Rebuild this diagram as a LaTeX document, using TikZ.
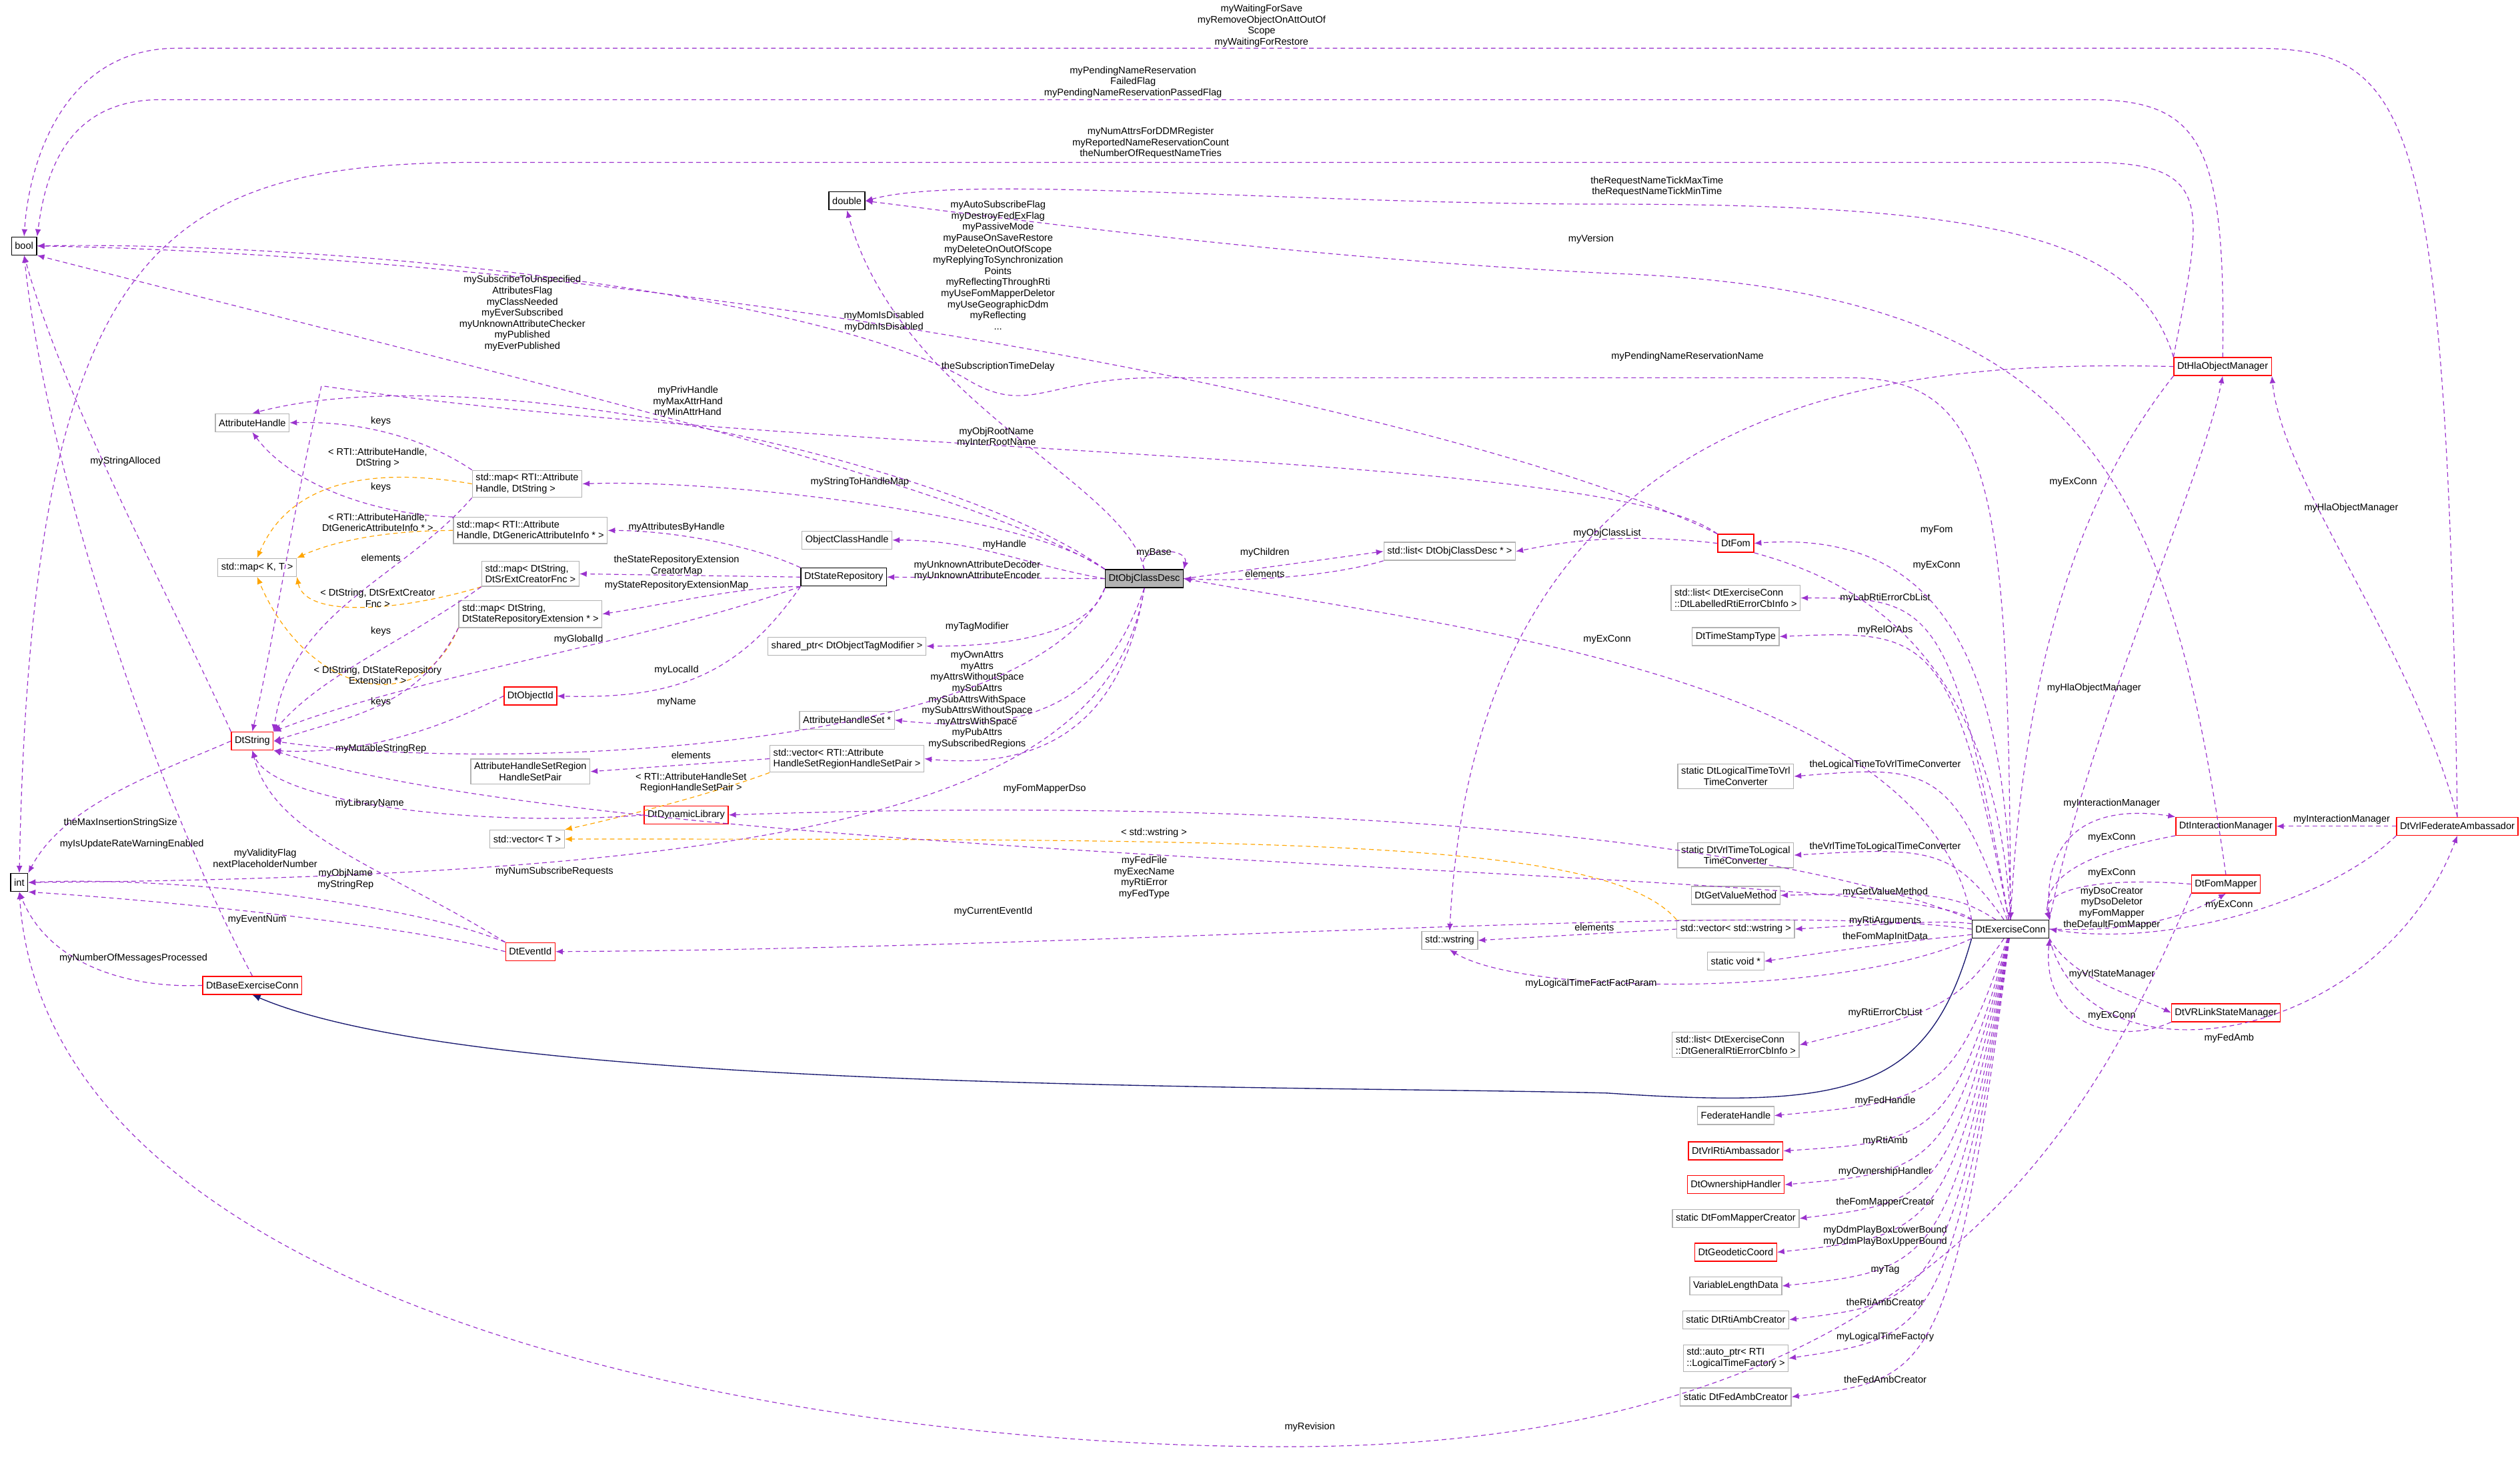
\documentclass[tikz,border=0pt]{standalone}
\usepackage{fontspec}
\setmainfont{Liberation Sans}
\usetikzlibrary{arrows.meta, positioning}
\definecolor{DepPurple}{RGB}{154, 50, 205}
\definecolor{TplOrange}{RGB}{255, 165, 0}
\definecolor{InhBlue}{RGB}{25, 25, 112}
\newcommand{\nf}{\fontsize{4.3}{4.9}\selectfont}

\begin{document}
\begin{tikzpicture}[x=0.025cm, y=-0.025cm,
    cls/.style={draw=black!30, fill=white, font=\nf, inner sep=1.5pt, minimum height=0.28cm, align=left},
    redcls/.style={cls, draw=red},
    blkcls/.style={cls, draw=black},
    lbl/.style={font=\nf, align=center, inner sep=0.3pt},
    dep/.style={draw=DepPurple, dashed, dash pattern=on 2pt off 1.5pt, line width=0.35pt, -{Latex[length=3.2pt, width=2.6pt]}},
    tpl/.style={dep, draw=TplOrange},
    inh/.style={draw=InhBlue, line width=0.4pt, -{Latex[length=3.6pt, width=3pt]}}]
    \useasboundingbox (0,0) rectangle (1568,913);

    % Linke Spalte
    \node[blkcls] (bool) at (15,153) {bool};
    \node[blkcls] (int) at (12,549) {int};
    \node[cls] (attrHandle) at (157,263) {AttributeHandle};
    \node[cls] (mapKT) at (160,353) {std::map< K, T >};
    \node[redcls] (dtString) at (157,461) {DtString};
    \node[redcls] (baseConn) at (157,613) {DtBaseExerciseConn};

    % Karten und Vektoren
    \node[cls] (mapHandleStr) at (328,301) {std::map< RTI::Attribute\\Handle, DtString >};
    \node[cls] (mapHandleInfo) at (330,330) {std::map< RTI::Attribute\\Handle, DtGenericAttributeInfo * >};
    \node[cls] (mapSrExt) at (330,357) {std::map< DtString,\\DtSrExtCreatorFnc >};
    \node[cls] (mapRepoExt) at (330,382) {std::map< DtString,\\DtStateRepositoryExtension * >};
    \node[redcls] (objectId) at (330,433) {DtObjectId};
    \node[cls, align=center] (regionPair) at (330,480) {AttributeHandleSetRegion\\HandleSetPair};
    \node[redcls] (dynLib) at (427,507) {DtDynamicLibrary};
    \node[cls] (vecT) at (328,522) {std::vector< T >};
    \node[redcls] (eventId) at (330,592) {DtEventId};

    % Mitte
    \node[blkcls] (double) at (527,125) {double};
    \node[cls] (objClassHandle) at (527,336) {ObjectClassHandle};
    \node[blkcls] (stateRepo) at (525,359) {DtStateRepository};
    \node[cls] (tagModifier) at (527,402) {shared\_ptr< DtObjectTagModifier >};
    \node[cls] (attrHandleSet) at (527,448) {AttributeHandleSet *};
    \node[cls] (vecRegion) at (527,472) {std::vector< RTI::Attribute\\HandleSetRegionHandleSetPair >};
    \node[blkcls, fill=black!30] (objClassDesc) at (712,360) {DtObjClassDesc};
    \node[cls] (listDesc) at (902,343) {std::list< DtObjClassDesc * >};
    \node[cls] (wstring) at (902,585) {std::wstring};

    % Rechte Spalte
    \node[redcls] (fom) at (1080,338) {DtFom};
    \node[cls] (labList) at (1080,372) {std::list< DtExerciseConn\\::DtLabelledRtiErrorCbInfo >};
    \node[cls] (timeStamp) at (1080,396) {DtTimeStampType};
    \node[cls, align=center] (toVrl) at (1080,483) {static DtLogicalTimeToVrl\\TimeConverter};
    \node[cls, align=center] (toLogical) at (1080,532) {static DtVrlTimeToLogical\\TimeConverter};
    \node[cls] (getValue) at (1080,557) {DtGetValueMethod};
    \node[cls] (vecWstring) at (1080,578) {std::vector< std::wstring >};
    \node[cls] (voidPtr) at (1080,598) {static void *};
    \node[cls] (genList) at (1080,650) {std::list< DtExerciseConn\\::DtGeneralRtiErrorCbInfo >};
    \node[cls] (fedHandle) at (1080,694) {FederateHandle};
    \node[redcls] (rtiAmb) at (1080,716) {DtVrlRtiAmbassador};
    \node[redcls] (ownership) at (1080,737) {DtOwnershipHandler};
    \node[cls] (fomCreator) at (1080,758) {static DtFomMapperCreator};
    \node[redcls] (geodetic) at (1080,779) {DtGeodeticCoord};
    \node[cls] (varData) at (1080,800) {VariableLengthData};
    \node[cls] (rtiCreator) at (1080,821) {static DtRtiAmbCreator};
    \node[cls] (timeFactory) at (1080,845) {std::auto\_ptr< RTI\\::LogicalTimeFactory >};
    \node[cls] (fedCreator) at (1080,869) {static DtFedAmbCreator};

    \node[blkcls] (exConn) at (1251,578) {DtExerciseConn};
    \node[redcls] (hlaMgr) at (1383,228) {DtHlaObjectManager};
    \node[redcls] (interMgr) at (1385,514) {DtInteractionManager};
    \node[redcls] (fomMapper) at (1385,550) {DtFomMapper};
    \node[redcls] (linkMgr) at (1385,630) {DtVRLinkStateManager};
    \node[redcls] (fedAmb) at (1529,514) {DtVrlFederateAmbassador};

    % Lange Verbindungen oben
    \draw[dep] (fedAmb.north) .. controls (1522,60) and (1500,30) .. (1400,30) -- (110,30) .. controls (40,30) and (18,100) .. (bool.north);
    \node[lbl] (lWait) at (785,16) {myWaitingForSave\\myRemoveObjectOnAttOutOf\\Scope\\myWaitingForRestore};
    \draw[dep] (hlaMgr.north) .. controls (1385,90) and (1370,62) .. (1300,62) -- (100,62) .. controls (40,62) and (28,110) .. (bool.north east);
    \node[lbl] (lPend) at (705,51) {myPendingNameReservation\\FailedFlag\\myPendingNameReservationPassedFlag};
    \draw[dep] (hlaMgr.north west) .. controls (1370,130) and (1380,101) .. (1300,101) -- (300,101) .. controls (100,101) and (20,150) .. (int.north);
    \node[lbl] (lNum) at (716,89) {myNumAttrsForDDMRegister\\myReportedNameReservationCount\\theNumberOfRequestNameTries};
    \draw[dep] (hlaMgr.north west) .. controls (1330,150) and (1250,127) .. (1000,127) .. controls (800,127) and (600,108) .. (double.east);
    \node[lbl] (lTick) at (1031,116) {theRequestNameTickMaxTime\\theRequestNameTickMinTime};
    \draw[dep] (fomMapper.north) .. controls (1350,300) and (1300,180) .. (1000,170) .. controls (800,160) and (620,135) .. (double.east);
    \node[lbl] (lVersion) at (990,149) {myVersion};
    \draw[dep] (exConn.north) .. controls (1250,300) and (1240,235) .. (1150,235) -- (720,235) .. controls (650,235) and (640,260) .. (600,235) .. controls (500,180) and (200,150) .. (bool.east);
    \node[lbl] (lFlags) at (621,165) {myAutoSubscribeFlag\\myDestroyFedExFlag\\myPassiveMode\\myPauseOnSaveRestore\\myDeleteOnOutOfScope\\myReplyingToSynchronization\\Points\\myReflectingThroughRti\\myUseFomMapperDeletor\\myUseGeographicDdm\\myReflecting\\...};
    \draw[dep] (fom.north west) .. controls (900,250) and (400,160) .. (bool.east);
    \node[lbl] (lMom) at (550,200) {myMomIsDisabled\\myDdmIsDisabled};
    \draw[dep] (objClassDesc.north) .. controls (700,300) and (560,250) .. (double.south);
    \node[lbl] (lDelay) at (621,228) {theSubscriptionTimeDelay};
    \draw[dep] (objClassDesc.north west) .. controls (600,300) and (300,230) .. (bool.south east);
    \node[lbl] (lSub) at (325,195) {mySubscribeToUnspecified\\AttributesFlag\\myClassNeeded\\myEverSubscribed\\myUnknownAttributeChecker\\myPublished\\myEverPublished};
    \draw[dep] (dtString.north west) .. controls (110,380) and (40,250) .. (bool.south);
    \node[lbl] (lAlloc) at (78,287) {myStringAlloced};

    % DtObjClassDesc
    \draw[dep] (objClassDesc.north west) .. controls (600,290) and (300,220) .. (attrHandle.north);
    \node[lbl] (lPriv) at (428,250) {myPrivHandle\\myMaxAttrHand\\myMinAttrHand};
    \draw[dep] (fom.north west) .. controls (1000,280) and (500,285) .. (200,240) .. controls (180,330) and (170,400) .. (dtString.north);
    \node[lbl] (lRoot) at (620,272) {myObjRootName\\myInterRootName};
    \draw[dep] (objClassDesc.north west) .. controls (640,320) and (450,298) .. (mapHandleStr.east);
    \node[lbl] (lStrMap) at (535,300) {myStringToHandleMap};
    \draw[dep] (objClassDesc.west) to[out=170, in=0] (objClassHandle.east);
    \node[lbl] (lHandle) at (625,339) {myHandle};
    \draw[dep] (objClassDesc.west) -- (stateRepo.east);
    \node[lbl] (lUnknown) at (608,355) {myUnknownAttributeDecoder\\myUnknownAttributeEncoder};
    \draw[dep] (objClassDesc.south west) .. controls (680,390) and (640,402) .. (tagModifier.east);
    \node[lbl] (lTag) at (608,390) {myTagModifier};
    \draw[dep] (objClassDesc.south) .. controls (690,430) and (650,458) .. (attrHandleSet.east);
    \node[lbl] (lAttrs) at (608,432) {myOwnAttrs\\myAttrs\\myAttrsWithoutSpace\\mySubAttrs\\mySubAttrsWithSpace\\mySubAttrsWithoutSpace\\myAttrsWithSpace\\myPubAttrs};
    \draw[dep] (objClassDesc.south) .. controls (700,440) and (660,480) .. (vecRegion.east);
    \node[lbl] (lRegions) at (608,463) {mySubscribedRegions};
    \draw[dep] (objClassDesc.north) .. controls (705,340) and (740,340) .. (objClassDesc.north east);
    \node[lbl] (lBase) at (718,344) {myBase};
    \draw[dep] (objClassDesc.east) -- (listDesc.west);
    \node[lbl] (lChildren) at (787,344) {myChildren};
    \draw[dep] (listDesc.south west) .. controls (830,358) and (780,362) .. (objClassDesc.east);
    \node[lbl] (lElemDesc) at (787,357) {elements};
    \draw[dep] (fom.west) .. controls (1000,330) and (960,340) .. (listDesc.east);
    \node[lbl] (lObjList) at (1000,332) {myObjClassList};
    \draw[dep] (exConn.north west) .. controls (1200,420) and (900,390) .. (objClassDesc.east);
    \node[lbl] (lExDesc) at (1000,398) {myExConn};
    \draw[dep] (objClassDesc.south west) .. controls (640,470) and (300,480) .. (dtString.east);
    \node[lbl] (lName) at (421,437) {myName};
    \draw[dep] (objClassDesc.south) .. controls (690,500) and (500,545) .. (int.east);
    \node[lbl] (lNumSub) at (345,542) {myNumSubscribeRequests};

    % Maps
    \draw[dep] (mapHandleStr.north west) .. controls (260,270) and (220,262) .. (attrHandle.east);
    \node[lbl] (lKeys1) at (237,262) {keys};
    \draw[dep] (mapHandleInfo.north west) .. controls (230,320) and (180,300) .. (attrHandle.south);
    \node[lbl] (lKeys2) at (237,303) {keys};
    \draw[tpl] (mapHandleStr.west) .. controls (230,290) and (180,300) .. (mapKT.north);
    \node[lbl] (lTpl1) at (235,285) {< RTI::AttributeHandle,\\DtString >};
    \draw[tpl] (mapHandleInfo.west) .. controls (230,330) and (200,340) .. (mapKT.north east);
    \node[lbl] (lTpl2) at (235,325) {< RTI::AttributeHandle,\\DtGenericAttributeInfo * >};
    \draw[dep] (mapHandleStr.south west) .. controls (250,360) and (180,380) .. (dtString.north east);
    \node[lbl] (lElem1) at (237,347) {elements};
    \draw[tpl] (mapSrExt.south west) .. controls (250,380) and (190,385) .. (mapKT.south east);
    \node[lbl] (lTpl3) at (235,372) {< DtString, DtSrExtCreator\\Fnc >};
    \draw[dep] (mapSrExt.south west) .. controls (250,400) and (200,420) .. (dtString.north east);
    \node[lbl] (lKeys3) at (237,393) {keys};
    \draw[tpl] (mapRepoExt.south west) .. controls (260,450) and (190,430) .. (mapKT.south);
    \node[lbl] (lTpl4) at (235,420) {< DtString, DtStateRepository\\Extension * >};
    \draw[dep] (mapRepoExt.south west) .. controls (260,440) and (220,445) .. (dtString.east);
    \node[lbl] (lKeys4) at (237,437) {keys};

    % DtStateRepository
    \draw[dep] (stateRepo.north west) .. controls (470,340) and (420,330) .. (mapHandleInfo.east);
    \node[lbl] (lByHandle) at (421,328) {myAttributesByHandle};
    \draw[dep] (stateRepo.west) -- (mapSrExt.east);
    \node[lbl] (lCreatorMap) at (421,352) {theStateRepositoryExtension\\CreatorMap};
    \draw[dep] (stateRepo.south west) .. controls (460,365) and (420,375) .. (mapRepoExt.east);
    \node[lbl] (lExtMap) at (421,364) {myStateRepositoryExtensionMap};
    \draw[dep] (stateRepo.south west) .. controls (400,400) and (260,420) .. (dtString.north east);
    \node[lbl] (lGlobal) at (360,398) {myGlobalId};
    \draw[dep] (stateRepo.south west) .. controls (460,420) and (420,435) .. (objectId.east);
    \node[lbl] (lLocal) at (421,417) {myLocalId};

    % DtObjectId, Vektoren
    \draw[dep] (objectId.west) .. controls (280,450) and (230,470) .. (dtString.south east);
    \node[lbl] (lMutable) at (237,466) {myMutableStringRep};
    \draw[dep] (vecRegion.west) -- (regionPair.east);
    \node[lbl] (lElemReg) at (430,470) {elements};
    \draw[tpl] (vecRegion.south west) .. controls (440,495) and (380,510) .. (vecT.north east);
    \node[lbl] (lTplReg) at (430,487) {< RTI::AttributeHandleSet\\RegionHandleSetPair >};
    \draw[dep] (dynLib.west) .. controls (300,515) and (170,500) .. (dtString.south);
    \node[lbl] (lLib) at (230,500) {myLibraryName};
    \draw[tpl] (vecWstring.north west) .. controls (1000,522) and (800,522) .. (vecT.east);
    \node[lbl] (lTplW) at (718,518) {< std::wstring >};

    % DtString, int
    \draw[dep] (dtString.west) .. controls (100,480) and (40,500) .. (int.north east);
    \node[lbl] (lMaxIns) at (75,512) {theMaxInsertionStringSize};
    \draw[dep] (baseConn.north) .. controls (100,500) and (30,300) .. (bool.south);
    \node[lbl] (lRate) at (82,525) {myIsUpdateRateWarningEnabled};
    \draw[dep] (eventId.north west) .. controls (250,560) and (100,545) .. (int.east);
    \node[lbl] (lValid) at (165,534) {myValidityFlag\\nextPlaceholderNumber};
    \draw[dep] (eventId.west) .. controls (250,575) and (100,560) .. (int.south east);
    \node[lbl] (lEventNum) at (160,572) {myEventNum};
    \draw[dep] (eventId.north west) .. controls (240,540) and (170,520) .. (dtString.south);
    \node[lbl] (lObjName) at (215,547) {myObjName\\myStringRep};
    \draw[dep] (baseConn.west) .. controls (80,615) and (30,600) .. (int.south);
    \node[lbl] (lMsgs) at (83,596) {myNumberOfMessagesProcessed};
    \draw[inh] (exConn.south west) .. controls (1200,680) and (1150,690) .. (1000,680) .. controls (800,675) and (300,680) .. (baseConn.south);
    \draw[dep] (fomMapper.south west) .. controls (1300,700) and (1200,900) .. (800,900) .. controls (500,900) and (30,820) .. (int.south);
    \node[lbl] (lRevision) at (815,888) {myRevision};

    % DtExerciseConn links
    \draw[dep] (exConn.north west) .. controls (1100,520) and (800,495) .. (dynLib.east);
    \node[lbl] (lDso) at (650,491) {myFomMapperDso};
    \draw[dep] (exConn.north west) .. controls (1200,540) and (400,540) .. (dtString.south east);
    \node[lbl] (lFedFile) at (712,546) {myFedFile\\myExecName\\myRtiError\\myFedType};
    \draw[dep] (exConn.west) .. controls (1100,560) and (700,590) .. (eventId.east);
    \node[lbl] (lCurEvent) at (618,567) {myCurrentEventId};
    \draw[dep] (vecWstring.west) -- (wstring.east);
    \node[lbl] (lElemW) at (992,577) {elements};
    \draw[dep] (hlaMgr.west) .. controls (1200,225) and (920,230) .. (wstring.north);
    \node[lbl] (lPendName) at (1050,222) {myPendingNameReservationName};
    \draw[dep] (exConn.south west) .. controls (1150,620) and (950,620) .. (wstring.south);
    \node[lbl] (lFact) at (990,612) {myLogicalTimeFactFactParam};

    % DtExerciseConn rechts nach links
    \foreach \tgt/\lab/\ly in {labList/myLabRtiErrorCbList/372, timeStamp/myRelOrAbs/392,
        toVrl/theLogicalTimeToVrlTimeConverter/476, toLogical/theVrlTimeToLogicalTimeConverter/527,
        getValue/myGetValueMethod/555, vecWstring/myRtiArguments/573, voidPtr/theFomMapInitData/583,
        genList/myRtiErrorCbList/630, fedHandle/myFedHandle/685, rtiAmb/myRtiAmb/710,
        ownership/myOwnershipHandler/729, fomCreator/theFomMapperCreator/748,
        geodetic/{myDdmPlayBoxLowerBound\\myDdmPlayBoxUpperBound}/769, varData/myTag/790,
        rtiCreator/theRtiAmbCreator/810, timeFactory/myLogicalTimeFactory/832, fedCreator/theFedAmbCreator/858} {
      \draw[dep] (exConn) .. controls (1215,\ly) and (1200,\ly) .. (\tgt.east);
      \node[lbl] at (1173,\ly) {\lab};
    }

    % DtExerciseConn rechts
    \draw[dep] (exConn.north) .. controls (1250,400) and (1200,330) .. (fom.east);
    \node[lbl] (lFom) at (1205,330) {myFom};
    \draw[dep] (fom.south east) .. controls (1150,360) and (1240,400) .. (exConn.north);
    \node[lbl] (lExFom) at (1205,352) {myExConn};
    \draw[dep] (hlaMgr.south west) .. controls (1300,300) and (1260,400) .. (exConn.north);
    \node[lbl] (lExHla) at (1290,300) {myExConn};
    \draw[dep] (exConn.north east) .. controls (1300,450) and (1370,300) .. (hlaMgr.south);
    \node[lbl] (lHla) at (1303,428) {myHlaObjectManager};
    \draw[dep] (fedAmb.north) .. controls (1500,400) and (1420,300) .. (hlaMgr.south east);
    \node[lbl] (lHla2) at (1463,316) {myHlaObjectManager};
    \draw[dep] (exConn.north east) .. controls (1270,520) and (1300,500) .. (interMgr.north west);
    \node[lbl] (lInter) at (1314,500) {myInteractionManager};
    \draw[dep] (fedAmb.west) -- (interMgr.east);
    \node[lbl] (lInter2) at (1457,510) {myInteractionManager};
    \draw[dep] (interMgr.south west) .. controls (1300,530) and (1270,545) .. (exConn.north east);
    \node[lbl] (lExInter) at (1314,521) {myExConn};
    \draw[dep] (fomMapper.west) .. controls (1300,545) and (1270,555) .. (exConn.north east);
    \node[lbl] (lExMapper) at (1314,543) {myExConn};
    \draw[dep] (exConn.east) .. controls (1330,580) and (1360,570) .. (fomMapper.south);
    \node[lbl] (lDso2) at (1314,565) {myDsoCreator\\myDsoDeletor\\myFomMapper\\theDefaultFomMapper};
    \draw[dep] (fedAmb.south west) .. controls (1450,560) and (1350,590) .. (exConn.east);
    \node[lbl] (lExAmb) at (1387,563) {myExConn};
    \draw[dep] (exConn.south east) .. controls (1290,610) and (1330,620) .. (linkMgr.west);
    \node[lbl] (lLink) at (1314,606) {myVrlStateManager};
    \draw[dep] (linkMgr.south west) .. controls (1320,650) and (1270,640) .. (exConn.south east);
    \node[lbl] (lExLink) at (1314,632) {myExConn};
    \draw[dep] (exConn.south east) .. controls (1300,680) and (1480,650) .. (fedAmb.south);
    \node[lbl] (lFedAmb) at (1387,646) {myFedAmb};
\end{tikzpicture}
\end{document}
